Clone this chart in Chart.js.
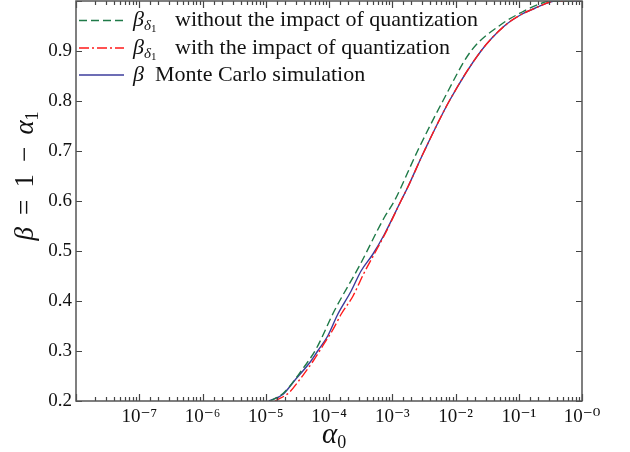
<!DOCTYPE html>
<html>
<head>
<meta charset="utf-8">
<script src="https://cdn.jsdelivr.net/npm/chart.js@4.4.1/dist/chart.umd.min.js"></script>
<style>
  html, body { margin: 0; padding: 0; background: #fff; }
  #wrap { width: 630px; height: 452px; }
</style>
</head>
<body>
<div id="wrap"><canvas id="chart-area"></canvas></div>
<script>
// alpha_0 (false alarm) values and beta = 1 - alpha_1

// beta_delta1 without the impact of quantization (green, dashed)
var alphaNoQ = [1.17e-5, 1.95e-5, 3.63e-5, 6.31e-5, 1.21e-4, 3.02e-4, 7.48e-4, 1.08e-3, 2.51e-3, 6.31e-3, 1.76e-2, 5.25e-2, 0.1096, 0.224, 0.316, 1];
var betaNoQ  = [0.200, 0.217, 0.260, 0.305, 0.380, 0.470, 0.567, 0.600, 0.700, 0.800, 0.900, 0.953, 0.977, 0.995, 1.000, 1.000];

// beta_delta1 with the impact of quantization (red, dash-dot)
var alphaQ = [1.41e-5, 2.34e-5, 3.55e-5, 5.62e-5, 7.94e-5, 1.12e-4, 1.58e-4, 2.40e-4, 3.55e-4, 5.25e-4, 7.76e-4, 1.37e-3, 1.75e-3, 3.21e-3, 7.98e-3, 2.53e-2, 5.92e-2, 0.1096, 0.176, 0.389, 1];
var betaQ  = [0.200, 0.217, 0.245, 0.280, 0.310, 0.340, 0.375, 0.410, 0.455, 0.495, 0.535, 0.600, 0.627, 0.700, 0.800, 0.900, 0.950, 0.973, 0.985, 1.000, 1.000];

// beta Monte Carlo simulation (blue, solid)
var alphaMC = [1.12e-5, 1.86e-5, 2.82e-5, 5.19e-5, 6.61e-5, 9.55e-5, 1.37e-4, 2.24e-4, 3.21e-4, 4.90e-4, 7.48e-4, 1.37e-3, 1.75e-3, 3.21e-3, 7.98e-3, 2.53e-2, 5.92e-2, 0.1096, 0.176, 0.389, 1];
var betaMC  = [0.200, 0.213, 0.240, 0.280, 0.300, 0.330, 0.373, 0.420, 0.460, 0.493, 0.533, 0.600, 0.627, 0.700, 0.800, 0.900, 0.950, 0.973, 0.985, 1.000, 1.000];

var legendText = ['without the impact of quantization', 'with the impact of quantization', 'Monte Carlo simulation'];
var supers = {'0':'⁰','1':'¹','2':'²','3':'³','4':'⁴','5':'⁵','6':'⁶','7':'⁷','8':'⁸','9':'⁹','-':'⁻'};

var SERIF = '"Liberation Serif", "DejaVu Serif", serif';

function pts(xs, ys) {
  return xs.map(function(x, i) { return {x: x, y: ys[i]}; });
}

function isDecade(v) {
  var lg = Math.log10(v);
  return Math.abs(lg - Math.round(lg)) < 1e-6;
}

// draw a run of [text, font, dy] pieces, returns end x
function drawRun(ctx, x, y, parts) {
  parts.forEach(function(p) {
    ctx.font = p[1];
    ctx.fillText(p[0], x, y + (p[2] || 0));
    x += ctx.measureText(p[0]).width;
  });
  return x;
}

var framePlugin = {
  id: 'frame',
  afterDraw: function(chart) {
    var ctx = chart.ctx, a = chart.chartArea;
    var xs = chart.scales.x, ys = chart.scales.y;
    ctx.save();
    ctx.setLineDash([]);
    // inward ticks, like matplotlib
    ctx.strokeStyle = '#444';
    ctx.lineWidth = 1.2;
    ctx.beginPath();
    xs.ticks.forEach(function(t) {
      var p = Math.round(xs.getPixelForValue(t.value)) + 0.5;
      var len = isDecade(t.value) ? 7 : 4;
      ctx.moveTo(p, a.bottom); ctx.lineTo(p, a.bottom - len);
      ctx.moveTo(p, a.top); ctx.lineTo(p, a.top + len);
    });
    ys.ticks.forEach(function(t) {
      var p = Math.round(ys.getPixelForValue(t.value)) + 0.5;
      ctx.moveTo(a.left, p); ctx.lineTo(a.left + 6, p);
      ctx.moveTo(a.right, p); ctx.lineTo(a.right - 6, p);
    });
    ctx.stroke();
    // frame
    ctx.strokeStyle = '#555';
    ctx.lineWidth = 1.5;
    ctx.strokeRect(a.left, a.top, a.right - a.left, a.bottom - a.top);

    // legend
    ctx.fillStyle = '#111';
    ctx.textBaseline = 'middle';
    var rows = [20.5, 48, 75];
    chart.data.datasets.forEach(function(ds, i) {
      var y = rows[i];
      ctx.strokeStyle = ds.borderColor;
      ctx.lineWidth = ds.borderWidth;
      ctx.setLineDash(ds.borderDash || []);
      ctx.beginPath();
      ctx.moveTo(79, y); ctx.lineTo(124, y);
      ctx.stroke();
      ctx.setLineDash([]);
      if (i < 2) {
        drawRun(ctx, 133, y, [['β', 'italic 22px ' + SERIF, 0], ['δ', 'italic 15px ' + SERIF, 6], ['1', '11px ' + SERIF, 9]]);
        if (i === 0) {
          ctx.font = '18px ' + SERIF;
          ctx.textBaseline = 'alphabetic';
          ctx.fillText('˜', 137, 10);
          ctx.textBaseline = 'middle';
        }
        ctx.font = '22px ' + SERIF;
        ctx.fillText(legendText[i], 175, y);
      } else {
        drawRun(ctx, 133, y, [['β', 'italic 22px ' + SERIF, 0]]);
        ctx.font = '22px ' + SERIF;
        ctx.fillText(legendText[i], 155, y);
      }
    });

    // axis titles
    ctx.textBaseline = 'alphabetic';
    ctx.save();
    ctx.translate(33, 176);
    ctx.rotate(-Math.PI / 2);
    var yparts = [['β', 'italic 27px ' + SERIF, 0], [' \u2009=\u2009 1 \u2009−\u2009 ', '27px ' + SERIF, 0], ['α', 'italic 27px ' + SERIF, 0], ['1', '18px ' + SERIF, 5]];
    var w = 0;
    yparts.forEach(function(p) { ctx.font = p[1]; w += ctx.measureText(p[0]).width; });
    drawRun(ctx, -w / 2, 0, yparts);
    ctx.restore();
    drawRun(ctx, 322, 443, [['α', 'italic 29px ' + SERIF, 0], ['0', '18px ' + SERIF, 5]]);
    ctx.restore();
  }
};

var config = {
  type: 'line',
  data: {
    datasets: [{
      label: 'beta_delta1 without quantization',
      data: pts(alphaNoQ, betaNoQ),
      borderColor: '#1f7a48',
      borderWidth: 1.4,
      borderDash: [8, 4],
      pointRadius: 0,
      cubicInterpolationMode: 'monotone'
    }, {
      label: 'beta_delta1 with quantization',
      data: pts(alphaQ, betaQ),
      borderColor: '#ff1a1a',
      borderWidth: 1.4,
      borderDash: [10, 3, 2, 3],
      pointRadius: 0,
      cubicInterpolationMode: 'monotone'
    }, {
      label: 'beta Monte Carlo',
      data: pts(alphaMC, betaMC),
      borderColor: '#3c3c9c',
      borderWidth: 1.4,
      pointRadius: 0,
      cubicInterpolationMode: 'monotone'
    }]
  },
  options: {
    responsive: true,
    maintainAspectRatio: false,
    animation: false,
    layout: { padding: { top: 1, right: 48, left: 0, bottom: 0 } },
    plugins: { legend: { display: false }, tooltip: { enabled: false } },
    scales: {
      x: {
        type: 'logarithmic',
        min: 1e-8,
        max: 1,
        grid: { display: false, drawTicks: false },
        border: { display: false },
        ticks: {
          autoSkip: false,
          maxRotation: 0,
          padding: 5,
          color: '#111',
          font: { family: SERIF, size: 19 },
          callback: function(v) {
            if (!isDecade(v)) return '';
            var e = Math.round(Math.log10(v));
            if (e === -8) return '';
            var s = e === 0 ? '-0' : String(e);
            return '10' + s.split('').map(function(c) { return supers[c]; }).join('');
          }
        },
        afterFit: function(s) { s.height = 51; s.paddingLeft = 0; s.paddingRight = 0; }
      },
      y: {
        min: 0.2,
        max: 1.0,
        grid: { display: false, drawTicks: false },
        border: { display: false },
        ticks: {
          stepSize: 0.1,
          padding: 4,
          color: '#111',
          font: { family: SERIF, size: 19 },
          callback: function(v) { return v > 0.95 ? '' : v.toFixed(1); }
        },
        afterFit: function(s) { s.width = 76; s.paddingTop = 0; s.paddingBottom = 0; }
      }
    }
  },
  plugins: [framePlugin]
};

var ctx = document.getElementById('chart-area').getContext('2d');
window.myChart = new Chart(ctx, config);
</script>
</body>
</html>
